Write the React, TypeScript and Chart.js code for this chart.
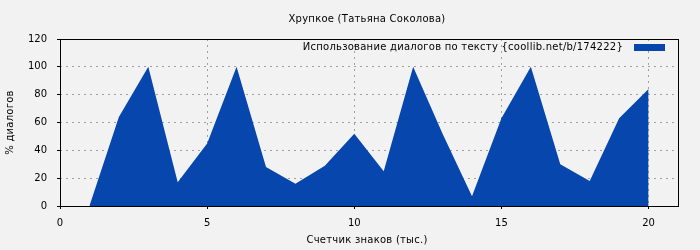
import React, { useEffect, useRef } from "react";
import { Chart, registerables } from "chart.js";

Chart.register(...registerables);

const xValues = [1, 2, 3, 4, 5, 6, 7, 8, 9, 10, 11, 12, 13, 14, 15, 16, 17, 18, 19, 20];
const dialogPercent = [0, 64, 100, 17, 45, 100, 28, 16, 29, 52, 25, 100, 52, 7, 63, 100, 30, 18, 63, 84];
const xTickValues = [0, 5, 10, 15, 20];
const chartTitle = "Хрупкое (Татьяна Соколова)";
const seriesLabel = "Использование диалогов по тексту {coollib.net/b/174222}";
const xTitle = "Счетчик знаков (тыс.)";
const yTitle = "% диалогов";

const FONT = "DejaVu Sans";
const FILL = "#0646ad";

export default function App() {
  const ref = useRef<HTMLCanvasElement | null>(null);
  useEffect(() => {
    document.body.style.margin = "0";
    document.body.style.background = "#f2f2f2";
    const canvas = ref.current!;
    const decor = {
      id: "decor",
      beforeDraw(chart: any) {
        const ctx = chart.ctx;
        ctx.save();
        ctx.fillStyle = "#f2f2f2";
        ctx.fillRect(0, 0, chart.width, chart.height);
        ctx.restore();
      },
      afterDraw(chart: any) {
        const ctx = chart.ctx;
        const a = chart.chartArea;
        ctx.save();
        ctx.strokeStyle = "#000";
        ctx.lineWidth = 1;
        ctx.strokeRect(Math.round(a.left) + 0.5, Math.round(a.top) + 0.5, Math.round(a.right - a.left), Math.round(a.bottom - a.top));
        ctx.fillStyle = "#000";
        ctx.font = `10px "${FONT}"`;
        (ctx as any).letterSpacing = "0.25px";
        ctx.textAlign = "center";
        ctx.textBaseline = "middle";
        const cx = (a.left + a.right) / 2;
        ctx.fillText(chartTitle, cx - 2, 19);
        ctx.fillText(xTitle, cx - 2, 240);
        ctx.save();
        ctx.translate(10, (a.top + a.bottom) / 2);
        ctx.rotate(-Math.PI / 2);
        ctx.fillText(yTitle, 0, 0);
        ctx.restore();
        ctx.textAlign = "right";
        ctx.fillText(seriesLabel, 623, 47);
        ctx.fillStyle = FILL;
        ctx.fillRect(634, 44, 31, 7);
        ctx.restore();
      },
    };
    const chart = new Chart(canvas, {
      type: "line",
      data: {
        datasets: [
          {
            label: seriesLabel,
            data: xValues.map((x, i) => ({ x, y: dialogPercent[i] })),
            fill: "origin",
            backgroundColor: FILL,
            borderWidth: 0,
            borderColor: FILL,
            pointRadius: 0,
            tension: 0,
          },
        ],
      },
      options: {
        animation: false,
        responsive: false,
        layout: { padding: { top: 39, right: 22, left: 0, bottom: 0 } },
        plugins: { legend: { display: false }, title: { display: false }, tooltip: { enabled: false } },
        scales: {
          x: {
            type: "linear",
            min: 0,
            max: 21,
            afterFit: (s: any) => { s.height = 44; },
            afterBuildTicks: (s: any) => { s.ticks = xTickValues.map((v) => ({ value: v })); },
            ticks: { color: "#000", font: { family: FONT, size: 10 }, padding: 8, maxRotation: 0 },
            grid: { color: "#a0a0a0", tickColor: "#000", tickBorderDash: [], tickLength: 3 },
            border: { display: false, dash: [2, 4] },
          },
          y: {
            min: 0,
            max: 120,
            afterFit: (s: any) => { s.width = 60; },
            ticks: { stepSize: 20, color: "#000", font: { family: FONT, size: 10 }, padding: 10 },
            grid: { color: "#a0a0a0", tickColor: "#000", tickBorderDash: [], tickLength: 3 },
            border: { display: false, dash: [2, 4] },
          },
        },
      },
      plugins: [decor],
    });
    return () => chart.destroy();
  }, []);
  return (
    <div style={{ width: 700, height: 250 }}>
      <canvas ref={ref} width={700} height={250} style={{ display: "block" }} />
    </div>
  );
}
